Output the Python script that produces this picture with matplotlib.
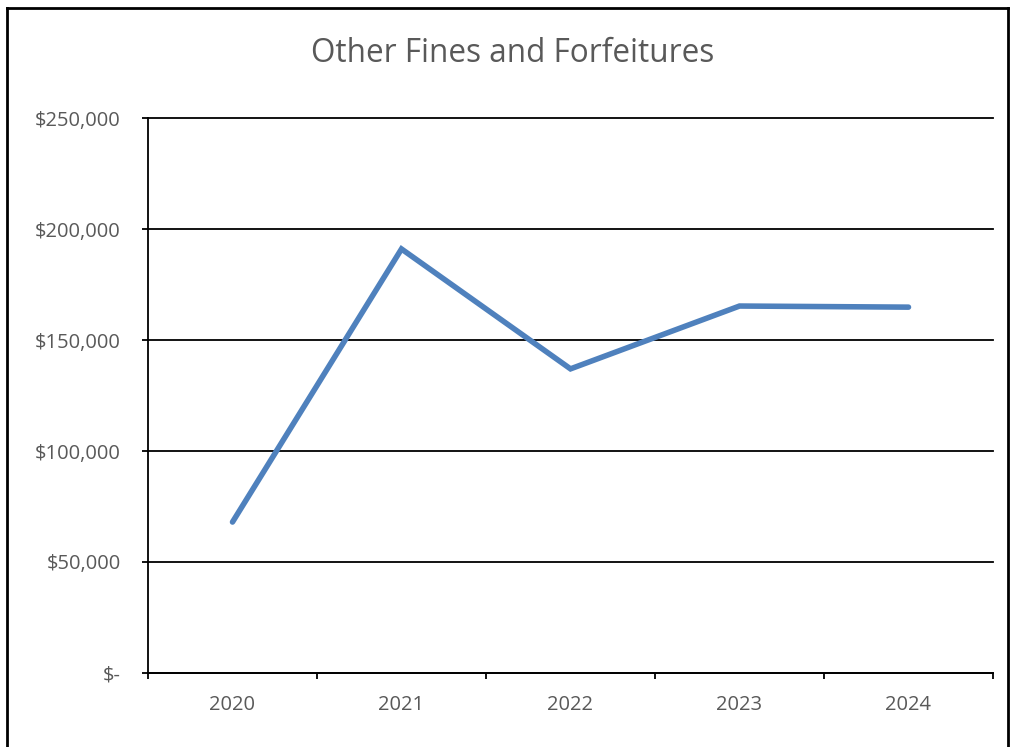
import matplotlib.pyplot as plt
from matplotlib.lines import Line2D

years = ['2020', '2021', '2022', '2023', '2024']
amounts = [68000, 191000, 137000, 165300, 164800]
yticks = [0, 50000, 100000, 150000, 200000, 250000]

plt.rcParams['font.family'] = ['Open Sans', 'DejaVu Sans']
grey = '#595959'

fig = plt.figure(figsize=(10.11, 7.47), dpi=100)
ax = fig.add_axes([148/1011, 1-673/747, (993-148)/1011, (673-118)/747])

x = list(range(len(years)))
ax.plot(x, amounts, color='#4f81bd', lw=4, solid_capstyle='round', solid_joinstyle='miter', zorder=3)

ax.set_xlim(-0.5, len(years)-0.5)
ax.set_ylim(0, 250000)
ax.set_yticks(yticks)
ax.set_yticklabels(['$-' if v == 0 else '${:,.0f}'.format(v) for v in yticks])
ax.set_xticks(x)
ax.set_xticklabels(years)
ax.set_xticks([i-0.5 for i in range(len(years)+1)], minor=True)
ax.tick_params(axis='x', which='major', length=0, pad=16, labelsize=14.5, colors=grey)
ax.tick_params(axis='x', which='minor', length=4.5, width=1.3, direction='out', color='black')
ax.tick_params(axis='y', length=4.5, width=1.3, direction='out', pad=15, labelsize=14.5, labelcolor=grey)

ax.grid(axis='y', color='black', lw=1.3)
for gl in ax.get_ygridlines():
    gl.set_clip_on(False)
ax.set_axisbelow(True)
for s in ['top', 'right']:
    ax.spines[s].set_visible(False)
for s in ['left', 'bottom']:
    ax.spines[s].set_linewidth(1.3)

fig.text(513/1011, 1-53/747, 'Other Fines and Forfeitures', ha='center', va='center', fontsize=22.7, color=grey)

# chart area border
fig.add_artist(Line2D([7/1011, 7/1011], [0, 1-8/747], color='black', lw=2, transform=fig.transFigure))
fig.add_artist(Line2D([7/1011, 1008/1011], [1-8/747, 1-8/747], color='black', lw=2, transform=fig.transFigure))
fig.add_artist(Line2D([1008/1011, 1008/1011], [0, 1-8/747], color='black', lw=2, transform=fig.transFigure))

fig.savefig('out.png', dpi=100)
